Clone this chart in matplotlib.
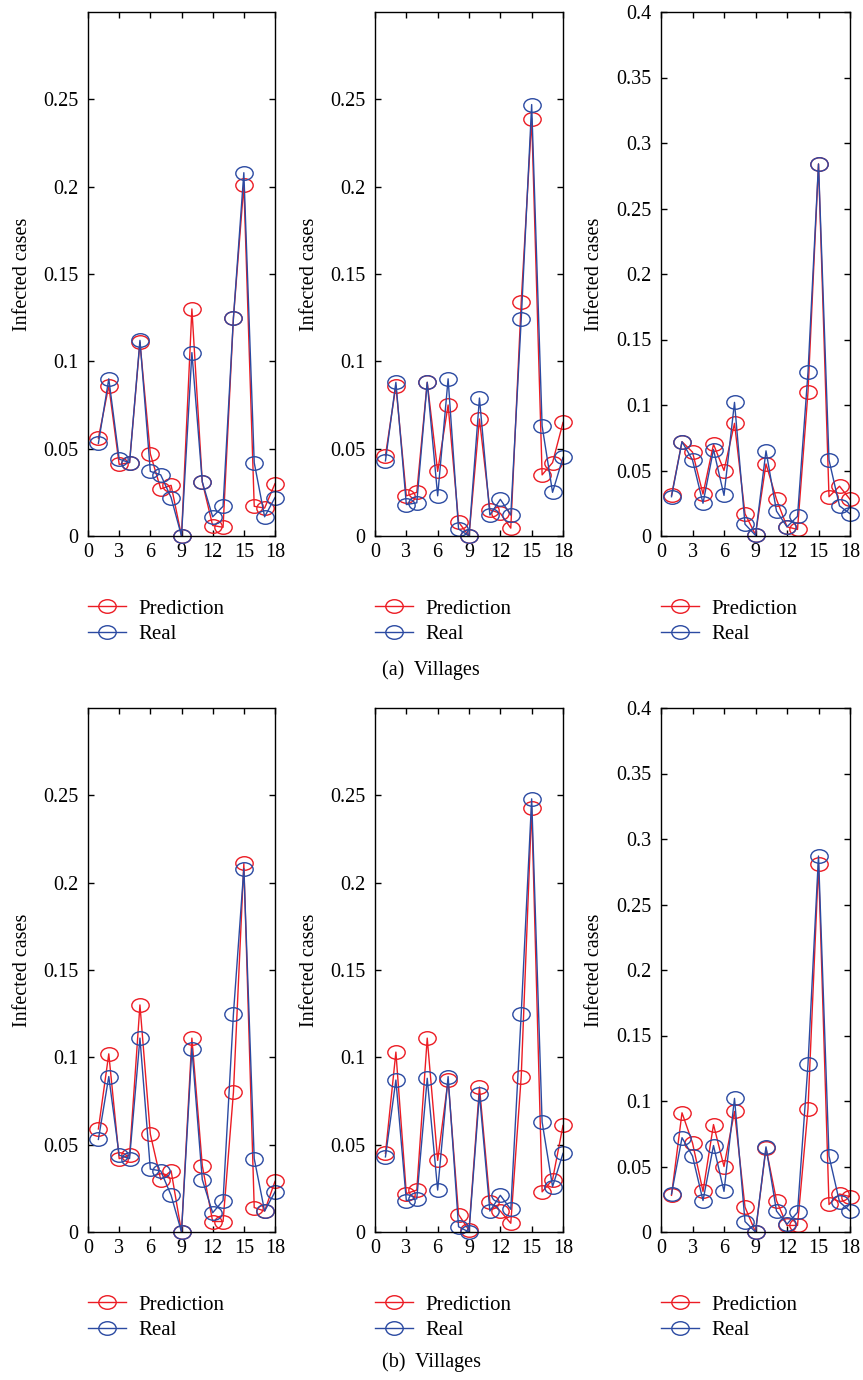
import numpy as np
import matplotlib
matplotlib.use("Agg")
import matplotlib.pyplot as plt
from matplotlib.path import Path
from matplotlib.transforms import Affine2D
from matplotlib.ticker import FuncFormatter

plt.rcParams['font.family'] = ['Liberation Serif', 'DejaVu Serif']

villages = list(range(1, 19))

# (a) top row
pred_a1 = [0.056, 0.086, 0.041, 0.042, 0.111, 0.047, 0.027, 0.029, 0.0, 0.130,
           0.031, 0.006, 0.005, 0.125, 0.201, 0.017, 0.016, 0.030]
real_a1 = [0.053, 0.090, 0.044, 0.042, 0.112, 0.037, 0.035, 0.022, 0.0, 0.105,
           0.031, 0.011, 0.017, 0.125, 0.208, 0.042, 0.011, 0.022]
pred_a2 = [0.046, 0.086, 0.023, 0.025, 0.088, 0.037, 0.075, 0.008, 0.0, 0.067,
           0.015, 0.013, 0.0045, 0.134, 0.239, 0.035, 0.042, 0.065]
real_a2 = [0.043, 0.088, 0.018, 0.019, 0.088, 0.023, 0.090, 0.004, 0.0, 0.079,
           0.012, 0.021, 0.012, 0.124, 0.247, 0.063, 0.025, 0.045]
pred_a3 = [0.031, 0.072, 0.064, 0.032, 0.070, 0.050, 0.086, 0.017, 0.001, 0.055,
           0.028, 0.007, 0.005, 0.110, 0.284, 0.030, 0.038, 0.028]
real_a3 = [0.030, 0.072, 0.058, 0.025, 0.066, 0.031, 0.102, 0.009, 0.0005, 0.065,
           0.019, 0.007, 0.015, 0.125, 0.284, 0.058, 0.023, 0.017]

# (b) bottom row
pred_b1 = [0.059, 0.102, 0.042, 0.044, 0.130, 0.056, 0.030, 0.035, 0.0, 0.111,
           0.038, 0.006, 0.006, 0.080, 0.211, 0.014, 0.012, 0.029]
real_b1 = [0.053, 0.089, 0.044, 0.042, 0.111, 0.036, 0.035, 0.021, 0.0, 0.105,
           0.030, 0.011, 0.018, 0.125, 0.208, 0.042, 0.012, 0.023]
pred_b2 = [0.045, 0.103, 0.022, 0.024, 0.111, 0.041, 0.087, 0.010, 0.001, 0.083,
           0.017, 0.012, 0.005, 0.089, 0.243, 0.023, 0.030, 0.061]
real_b2 = [0.043, 0.087, 0.018, 0.019, 0.088, 0.024, 0.089, 0.003, 0.0, 0.079,
           0.012, 0.021, 0.013, 0.125, 0.248, 0.063, 0.026, 0.045]
pred_b3 = [0.028, 0.091, 0.068, 0.031, 0.082, 0.050, 0.092, 0.019, 0.0, 0.064,
           0.024, 0.005, 0.005, 0.094, 0.281, 0.021, 0.029, 0.027]
real_b3 = [0.029, 0.072, 0.058, 0.024, 0.066, 0.031, 0.102, 0.008, 0.0, 0.065,
           0.016, 0.006, 0.015, 0.128, 0.287, 0.058, 0.023, 0.016]

panels = [
    (pred_a1, real_a1, 0.3, [0, 0.05, 0.1, 0.15, 0.2, 0.25]),
    (pred_a2, real_a2, 0.3, [0, 0.05, 0.1, 0.15, 0.2, 0.25]),
    (pred_a3, real_a3, 0.4, [0, 0.05, 0.1, 0.15, 0.2, 0.25, 0.3, 0.35, 0.4]),
    (pred_b1, real_b1, 0.3, [0, 0.05, 0.1, 0.15, 0.2, 0.25]),
    (pred_b2, real_b2, 0.3, [0, 0.05, 0.1, 0.15, 0.2, 0.25]),
    (pred_b3, real_b3, 0.4, [0, 0.05, 0.1, 0.15, 0.2, 0.25, 0.3, 0.35, 0.4]),
]

RED = '#ec1c24'
BLUE = '#2b4aa2'
W, H = 863, 1380

# slightly flattened circle marker, like the source
ellipse = Path.unit_circle().transformed(Affine2D().scale(1.0, 0.78))

fig = plt.figure(figsize=(W / 100, H / 100), dpi=100)

col_left = [88, 375, 661]
col_width = [187, 188, 189]
row_bottom = [536, 1232]
ax_h = 524
fs = 14.5

for i, (pred, real, ytop, yt) in enumerate(panels):
    r, c = divmod(i, 3)
    ax = fig.add_axes([col_left[c] / W, 1 - row_bottom[r] / H,
                       col_width[c] / W, ax_h / H])
    ax.plot(villages, pred, color=RED, lw=1.0, marker=ellipse, ms=12.5,
            mfc='none', mec=RED, mew=1.0, label='Prediction', clip_on=False)
    ax.plot(villages, real, color=BLUE, lw=1.0, marker=ellipse, ms=12.5,
            mfc='none', mec=BLUE, mew=1.0, label='Real', clip_on=False)
    ax.set_xlim(0, 18)
    ax.set_ylim(0, ytop)
    ax.set_xticks(range(0, 19, 3))
    ax.set_yticks(yt)
    ax.yaxis.set_major_formatter(FuncFormatter(lambda v, p: '%g' % round(v, 3)))
    ax.tick_params(direction='in', top=True, right=True, length=4, width=1,
                   labelsize=fs, pad=7)
    ax.tick_params(axis='x', pad=5)
    for s in ax.spines.values():
        s.set_linewidth(1.0)
    ax.set_ylabel('Infected cases', fontsize=fs)
    ax.yaxis.set_label_coords(-0.30, 0.5)
    ax.legend(loc='upper left',
              bbox_to_anchor=(col_left[c] / W, 1 - (row_bottom[r] + 63) / H),
              bbox_transform=fig.transFigure, frameon=False, borderpad=0,
              borderaxespad=0, handlelength=1.8, handletextpad=0.6,
              labelspacing=0.3, fontsize=fs + 0.5)

fig.text(431 / W, 1 - 670 / H, '(a)  Villages', ha='center', va='center',
         fontsize=fs)
fig.text(431 / W, 1 - 1362 / H, '(b)  Villages', ha='center', va='center',
         fontsize=fs)

fig.savefig('out.png', dpi=100)
